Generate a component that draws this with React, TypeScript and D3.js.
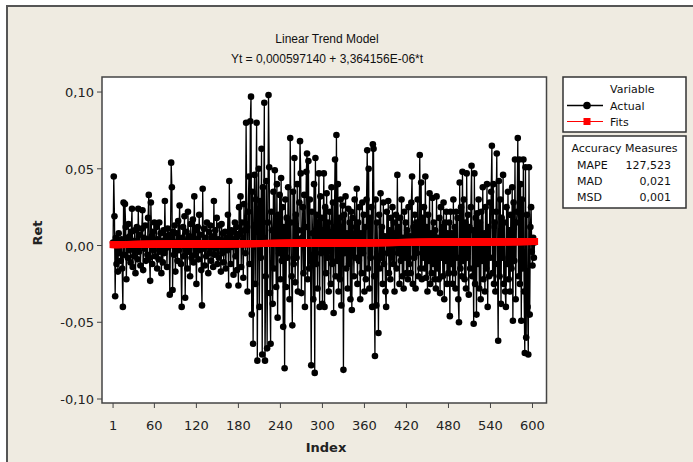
import React from "react";
import * as d3 from "d3";

// Ret series (in thousandths), index 1..603
const retMilli: number[] = [
  2, 45, 19, -33, 5, -12, 3, -17, 8, -5, 2, -10, 4, -15, -40, 28, -6, 27, 12, -22,
  5, -8, 14, -3, 6, -11, 9, 24, -14, 3, -7, 10, -18, 2, 12, -9, 24, -4, 7, -13,
  0, 11, 23, -16, 5, -2, 13, -10, 4, -6, 18, 33, -8, -23, 28, 6, -12, 9, -3, 15,
  -7, 2, 12, -15, 4, -9, 15, -4, 8, -18, 3, -11, 10, -5, 29, -2, 6, -14, 11, -1,
  7, -32, 4, 54, 38, -29, 9, -6, 13, -17, 2, 8, -10, 16, -3, 26, 1, -12, -40, 5,
  12, -7, 19, -34, 3, 9, -15, 22, -4, 6, -20, 14, -8, 1, 17, -11, 32, -6, 10, -25,
  4, 12, -9, 20, -3, 7, -16, -39, 37, -2, 11, -13, 5, -7, 15, 0, -18, 9, -5, 13,
  -10, 6, 3, -14, 29, -6, 10, -2, 18, -12, 4, -8, 13, 1, -17, 14, -5, 8, -11, 3,
  9, -15, 5, -3, 20, -26, 42, 7, -12, 10, -1, 9, -19, 4, 15, -7, 12, -16, 6, -26,
  25, 8, 32, -14, 15, 3, -21, 27, 10, -5, 80, 14, -30, 22, 45, -12, 81, 97, -45, 35,
  -64, 12, 46, -25, 30, 80, -75, 18, 50, -40, 29, -8, 63, -71, 38, 5, 93, -75, -20, 42,
  -67, 15, 98, 51, -31, -64, 22, 10, -38, 35, -15, 49, 8, -27, 40, -47, 20, -5, 33, -22,
  44, -10, 25, -53, 12, -80, 30, -27, 18, -8, 38, 2, -35, 70, 15, -20, -52, 35, -12, 57,
  -24, 20, -8, 40, -30, 10, 28, 68, 47, -31, 5, 25, -18, 33, -40, 12, 48, 60, -22, 55,
  -15, 30, -10, -78, 22, 8, -35, 40, -83, 57, -12, 20, -28, 15, 47, -40, 32, -5, 18, -38,
  10, 47, -40, 25, -18, 34, -8, 15, -30, 22, 5, -25, 38, -12, 28, -44, 10, 56, -20, 72,
  -10, 40, -30, 18, -22, 30, -39, 12, 26, -81, 20, -5, 32, -15, 8, -28, 24, -12, 15, -35,
  22, -42, 18, 6, -20, 30, -8, 12, 37, -25, 15, -10, 25, -35, 8, -18, 28, -5, 20, -30,
  12, -22, 30, 62, -15, 50, -28, 18, -8, 25, -40, 66, 63, -20, -72, 30, -39, 15, -10, -57,
  20, -15, 34, -8, 12, -25, 28, -12, 6, -30, -40, 22, -5, 29, -18, 10, -22, 18, -8, 25,
  -12, 15, -30, 8, 20, -15, 46, -5, 12, -25, 18, -10, 30, -20, 5, -28, 22, -8, 15, -18,
  10, -22, 25, -12, 6, -18, 28, 45, -25, 12, -8, 20, -28, 15, -5, 30, -20, 10, 59, -15,
  41, -22, 18, -8, 25, -15, 45, -21, 12, -30, 20, -10, 34, -25, 8, -18, 31, -12, 15, -22,
  10, -28, 32, -15, 5, -22, 18, -31, 25, -8, 12, -20, 28, -35, 15, -10, 22, -25, 8, -18,
  15, -46, 22, -12, 8, -25, 30, -18, 12, -28, 22, -8, 18, -35, -50, 41, -15, 25, -20, 48,
  -10, 30, -22, 15, -28, 47, -8, 20, -32, 12, -15, 25, 52, -20, 10, -51, 47, -25, 18, -45,
  21, -12, 30, -28, 15, -35, 22, -10, 38, -22, 8, -30, 25, -15, 40, -40, 12, -20, 28, -8,
  35, 65, -18, 40, -25, 15, -30, 22, 60, -12, -62, 42, -20, 30, -38, 18, -8, 46, -25, 15,
  -30, -40, 25, -12, 35, -22, 10, -30, 20, -15, 38, -49, 28, -10, 56, -35, 15, 22, 70, -20,
  56, -25, 40, -49, 30, -15, 56, -30, -70, 51, -60, 20, -40, -71, 51, -45, 12, 25, -4, -13,
  5, -8, 2,
];

const fitIntercept = 0.00059714;
const fitSlope = 3.364156e-6;
const xTicks: number[] = [1, 60, 120, 180, 240, 300, 360, 420, 480, 540, 600];
const yTicks: number[] = [-0.1, -0.05, 0, 0.05, 0.1];
const titleText = "Linear Trend Model";
const subtitleText = "Yt = 0,000597140 + 3,364156E-06*t";
const legendTitle = "Variable";
const legendItems: string[] = ["Actual", "Fits"];
const measureNames: string[] = ["MAPE", "MAD", "MSD"];
const measureValues: string[] = ["127,523", "0,021", "0,001"];

const W = 693;
const H = 462;
const L = 102, R = 546.5, T = 77, B = 403;

const fmt = (v: number) => {
  const s = Math.abs(v).toFixed(2).replace(".", ",");
  return (v < 0 ? "-" : "") + s;
};

export default function App() {
  const actual = retMilli.map((v, i) => ({ t: i + 1, v: v / 1000 }));
  const fits = actual.map((d) => ({ t: d.t, v: fitIntercept + fitSlope * d.t }));
  const x = d3.scaleLinear().domain([-14.8, 620]).range([L, R]);
  const y = d3.scaleLinear().domain([-0.1026, 0.1098]).range([B, T]);
  const line = d3
    .line<{ t: number; v: number }>()
    .x((d) => x(d.t))
    .y((d) => y(d.v));
  const tick = { fontFamily: "DejaVu Sans", fontSize: 13, fill: "#222" };
  const leg = { fontFamily: "DejaVu Sans", fontSize: 11, fill: "#111" };
  const sq = 7;
  return (
    <svg
      width={W}
      height={H}
      style={{ position: "absolute", left: 0, top: 0, display: "block" }}
    >
      <rect x={0} y={0} width={W} height={H} fill="#ffffff" />
      <rect x={7} y={6} width={W} height={H} fill="#EFEBE1" stroke="#555" strokeWidth={2} />
      <text
        x={327}
        y={43}
        textAnchor="middle"
        style={{ fontFamily: "Liberation Sans", fontSize: 12, fill: "#111" }}
      >
        {titleText}
      </text>
      <text
        x={327}
        y={63}
        textAnchor="middle"
        style={{ fontFamily: "Liberation Sans", fontSize: 12, fill: "#111" }}
      >
        {subtitleText}
      </text>
      <rect x={L} y={T} width={R - L} height={B - T} fill="#fff" />
      <defs>
        <clipPath id="plotclip">
          <rect x={L} y={T} width={R - L} height={B - T} />
        </clipPath>
      </defs>
      <g clipPath="url(#plotclip)">
        <path d={line(actual) || ""} fill="none" stroke="#000" strokeWidth={1.3} />
        {actual.map((d) => (
          <circle key={d.t} cx={x(d.t)} cy={y(d.v)} r={3.3} fill="#000" />
        ))}
        <path d={line(fits) || ""} fill="none" stroke="#f00" strokeWidth={1.5} />
        {fits.map((d) => (
          <rect
            key={d.t}
            x={x(d.t) - sq / 2}
            y={y(d.v) - sq / 2}
            width={sq}
            height={sq}
            fill="#f00"
          />
        ))}
      </g>
      <rect x={L} y={T} width={R - L} height={B - T} fill="none" stroke="#444" strokeWidth={1.5} />
      {yTicks.map((v) => (
        <g key={v}>
          <line x1={L - 5} x2={L} y1={y(v)} y2={y(v)} stroke="#444" strokeWidth={1} />
          <text x={L - 8} y={y(v) + 5} textAnchor="end" style={tick}>
            {fmt(v)}
          </text>
        </g>
      ))}
      {xTicks.map((v) => (
        <g key={v}>
          <line x1={x(v)} x2={x(v)} y1={B} y2={B + 5} stroke="#444" strokeWidth={1} />
          <text x={x(v)} y={430} textAnchor="middle" style={tick}>
            {v}
          </text>
        </g>
      ))}
      <text
        x={326}
        y={452}
        textAnchor="middle"
        style={{ fontFamily: "DejaVu Sans", fontSize: 13, fontWeight: "bold", fill: "#222" }}
      >
        Index
      </text>
      <text
        transform="translate(42,233) rotate(-90)"
        textAnchor="middle"
        style={{ fontFamily: "DejaVu Sans", fontSize: 13, fontWeight: "bold", fill: "#222" }}
      >
        Ret
      </text>
      {/* Legend */}
      <rect x={563} y={77} width={123} height={55} fill="#fff" stroke="#333" strokeWidth={1.5} />
      <text x={610} y={93} style={leg}>
        {legendTitle}
      </text>
      <line x1={567} x2={603} y1={105.5} y2={105.5} stroke="#000" strokeWidth={1.3} />
      <circle cx={587} cy={105.5} r={3.8} fill="#000" />
      <text x={610} y={109.5} style={leg}>
        {legendItems[0]}
      </text>
      <line x1={567} x2={603} y1={121.5} y2={121.5} stroke="#f00" strokeWidth={1} />
      <rect x={583.5} y={118} width={7} height={7} fill="#f00" />
      <text x={610} y={125.5} style={leg}>
        {legendItems[1]}
      </text>
      <rect x={563} y={136} width={123} height={72} fill="#fff" stroke="#333" strokeWidth={1.5} />
      <text x={624.5} y={152} textAnchor="middle" style={leg}>
        Accuracy Measures
      </text>
      {measureNames.map((n, i) => (
        <g key={n}>
          <text x={577} y={169 + i * 16} style={leg}>
            {n}
          </text>
          <text x={671} y={169 + i * 16} textAnchor="end" style={leg}>
            {measureValues[i]}
          </text>
        </g>
      ))}
    </svg>
  );
}
